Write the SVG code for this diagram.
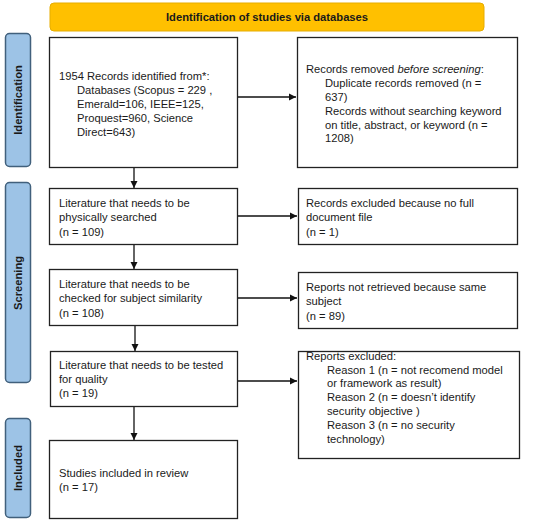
<svg xmlns="http://www.w3.org/2000/svg" width="550" height="524" viewBox="0 0 550 524">
<style>
text{font-family:"Liberation Sans",Arial,sans-serif;font-size:11.2px;fill:#1a1a1a}
.box{fill:#fff;stroke:#222;stroke-width:1.3}
.side{fill:#9dc3e6;stroke:#41607c;stroke-width:1.5}
.lbl{font-weight:bold;text-anchor:middle}
.con{stroke:#111;stroke-width:1.3;fill:none}
</style>
<defs>
<marker id="ah" markerWidth="8" markerHeight="8" refX="7" refY="4" orient="auto" markerUnits="userSpaceOnUse">
<path d="M0,0.5 L7,4 L0,7.5 Z" fill="#111"/>
</marker>
</defs>
<rect width="550" height="524" fill="#fff"/>
<g id="banner">
<rect x="50" y="3" width="434" height="28" rx="4" fill="#ffc000" stroke="#e6ad00" stroke-width="1"/>
<text class="lbl" x="267" y="21">Identification of studies via databases</text>
</g>
<g id="side-identification">
<rect class="side" x="5.5" y="33.5" width="25" height="133" rx="4"/>
<text class="lbl" transform="translate(22,100) rotate(-90)">Identification</text>
</g>
<g id="side-screening">
<rect class="side" x="5.5" y="182.5" width="25" height="200" rx="4"/>
<text class="lbl" transform="translate(22,283) rotate(-90)">Screening</text>
</g>
<g id="side-included">
<rect class="side" x="5.5" y="418.5" width="25" height="99" rx="4"/>
<text class="lbl" transform="translate(22,468) rotate(-90)">Included</text>
</g>
<g id="n1">
<rect class="box" x="49.5" y="37.5" width="188" height="130"/>
<text x="59" y="80">1954 Records identified from*:</text>
<text x="77" y="94">Databases (Scopus = 229 ,</text>
<text x="77" y="108">Emerald=106, IEEE=125,</text>
<text x="77" y="122">Proquest=960, Science</text>
<text x="77" y="136">Direct=643)</text>
</g>
<g id="n1r">
<rect class="box" x="297.5" y="37.5" width="220" height="130"/>
<text x="306" y="73">Records removed <tspan font-style="italic">before screening</tspan>:</text>
<text x="325" y="87">Duplicate records removed  (n =</text>
<text x="325" y="101">637)</text>
<text x="325" y="115">Records without searching keyword</text>
<text x="325" y="129">on title, abstract, or keyword (n =</text>
<text x="325" y="142">1208)</text>
</g>
<g id="n2">
<rect class="box" x="49.5" y="188.5" width="188" height="56"/>
<text x="59" y="207">Literature that needs to be</text>
<text x="59" y="221">physically searched</text>
<text x="59" y="236">(n = 109)</text>
</g>
<g id="n2r">
<rect class="box" x="298.5" y="188.5" width="219" height="56"/>
<text x="306" y="207">Records excluded because no full</text>
<text x="306" y="221">document file</text>
<text x="306" y="236">(n = 1)</text>
</g>
<g id="n3">
<rect class="box" x="49.5" y="269.5" width="188" height="56"/>
<text x="59" y="288">Literature that needs to be</text>
<text x="59" y="302">checked for subject similarity</text>
<text x="59" y="317">(n = 108)</text>
</g>
<g id="n3r">
<rect class="box" x="298.5" y="272.5" width="219" height="56"/>
<text x="306" y="291">Reports not retrieved because same</text>
<text x="306" y="305">subject</text>
<text x="306" y="320">(n = 89)</text>
</g>
<g id="n4">
<rect class="box" x="50.5" y="351.5" width="187" height="55"/>
<text x="59" y="369">Literature that needs to be tested</text>
<text x="59" y="383">for quality</text>
<text x="59" y="397">(n = 19)</text>
</g>
<g id="n4r">
<rect class="box" x="298.5" y="351.5" width="221" height="107"/>
<text x="306" y="360">Reports excluded:</text>
<text x="327" y="374">Reason 1 (n = not recomend model</text>
<text x="327" y="387">or framework as result)</text>
<text x="327" y="401">Reason 2 (n = doesn’t identify</text>
<text x="327" y="415">security objective )</text>
<text x="327" y="429">Reason 3 (n = no security</text>
<text x="327" y="443">technology)</text>
</g>
<g id="n5">
<rect class="box" x="49.5" y="440.5" width="188" height="78"/>
<text x="59" y="477">Studies included in review</text>
<text x="59" y="491">(n = 17)</text>
</g>
<g id="connectors">
<line class="con" x1="238" y1="97" x2="296" y2="97" marker-end="url(#ah)"/>
<line class="con" x1="238" y1="216" x2="297" y2="216" marker-end="url(#ah)"/>
<line class="con" x1="238" y1="298" x2="297" y2="298" marker-end="url(#ah)"/>
<line class="con" x1="238" y1="381" x2="297" y2="381" marker-end="url(#ah)"/>
<line class="con" x1="134" y1="168" x2="134" y2="188" marker-end="url(#ah)"/>
<line class="con" x1="134" y1="245" x2="134" y2="269" marker-end="url(#ah)"/>
<line class="con" x1="135" y1="326" x2="135" y2="351" marker-end="url(#ah)"/>
<line class="con" x1="134" y1="407" x2="134" y2="440" marker-end="url(#ah)"/>
</g>
</svg>
